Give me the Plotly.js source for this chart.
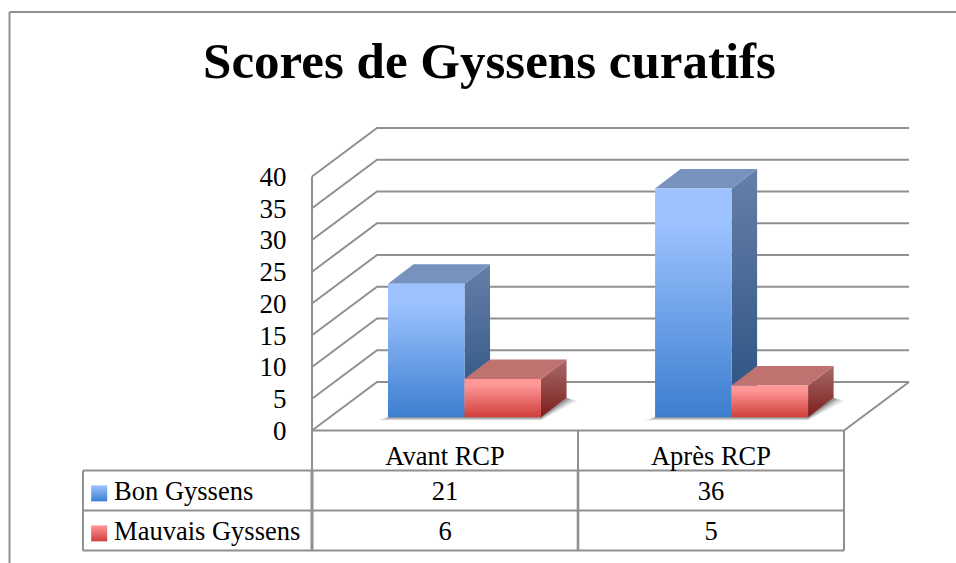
<!DOCTYPE html>
<html>
<head>
<meta charset="utf-8">
<script src="https://cdn.plot.ly/plotly-3.0.1.min.js"></script>
<style>
  html, body { margin: 0; padding: 0; background: white; }
</style>
</head>
<body>
<div id="graph" style="width:956px;height:563px;"></div>
<script>
// values
var chartTitle = 'Scores de Gyssens curatifs';
var categories = ['Avant RCP', 'Après RCP'];
var seriesNames = ['Bon Gyssens', 'Mauvais Gyssens'];
var bonGyssens = [21, 36];
var mauvaisGyssens = [6, 5];
var yTicks = [0, 5, 10, 15, 20, 25, 30, 35, 40];

// fake 3D: how far things are pushed back, in axis units
var wallDx = 0.2444, wallDy = 7.64;   // back wall
var barDx = 0.096, barDy = 3.07;      // depth of one bar
var barBase = 2.1;                    // bars stand a bit behind the front edge of the floor
var barStart = 0.2857, barWidth = 0.2876, groupStep = 1.004;

// table rows, in axis units under the floor
var headerY = -4.45, row1Y = -9.9, row2Y = -16.2;
var tableTop = -6.3, tableMid = -12.6, tableBottom = -18.9, tableLeft = -0.861;

var gridColor = '#909090';
var serif = '"Liberation Serif", serif';
var tableFontSize = 26.5;

var blue = {front: [[0, '#3c7ecf'], [0.85, '#9cc2ff'], [1, '#9cc2ff']], top: '#7892be', side: [[0, '#2a5080'], [1, '#6680a8']]};
var red = {front: [[0, '#cf3f3a'], [0.85, '#ff9797'], [1, '#ff9797']], top: '#c07270', side: [[0, '#7c1f1c'], [1, '#a66a6a']]};

var traces = [];

function line(x, y, width) {
  traces.push({x: x, y: y, mode: 'lines', line: {color: gridColor, width: width || 2}, hoverinfo: 'skip', showlegend: false});
}

function face(x, y, color) {
  var tr = {x: x, y: y, mode: 'lines', fill: 'toself', line: {width: 0}, showlegend: false, hoverinfo: 'skip'};
  if (typeof color == 'string') tr.fillcolor = color;
  else tr.fillgradient = {type: 'vertical', colorscale: color};
  traces.push(tr);
}

function tableText(x, y, text, pos) {
  traces.push({
    x: x, y: y, text: text, mode: 'text', textposition: pos || 'middle center',
    textfont: {family: serif, size: tableFontSize, color: '#000'}, hoverinfo: 'skip', showlegend: false
  });
}

// back wall + left wall
yTicks.forEach(function (v) {
  line([0, wallDx, 2 + wallDx], [v, v + wallDy, v + wallDy]);
});
line([0, 0], [0, 40]);
// floor
line([0, 2, 2 + wallDx], [0, 0, wallDy]);

// soft shadow on the floor, a few layers for the blur
function shadow(x0, x1) {
  [[0.04, 0.5, 'rgba(120,120,120,0.18)'], [0.025, 0.35, 'rgba(100,100,100,0.25)'], [0.012, 0.2, 'rgba(70,70,70,0.35)']].forEach(function (s) {
    face([x0 - s[0], x1, x1 + barDx + s[0], x1 + barDx, x0],
         [barBase - s[1], barBase - s[1], barBase + barDy - s[1], barBase + barDy, barBase], s[2]);
  });
}

function bar(x0, value, c) {
  var x1 = x0 + barWidth, base = barBase, t = barBase + value;
  face([x1, x1 + barDx, x1 + barDx, x1], [base, base + barDy, t + barDy, t], c.side);
  face([x0, x1, x1 + barDx, x0 + barDx], [t, t, t + barDy, t + barDy], c.top);
  face([x0, x1, x1, x0], [base, base, t, t], c.front);
}

categories.forEach(function (cat, i) {
  var x0 = i * groupStep + barStart;
  shadow(x0, x0 + 2 * barWidth);
  bar(x0, bonGyssens[i], blue);
  bar(x0 + barWidth, mauvaisGyssens[i], red);
});

// data table grid
line([tableLeft, 2], [tableTop, tableTop]);
line([tableLeft, 2], [tableMid, tableMid]);
line([tableLeft, 2], [tableBottom, tableBottom]);
line([tableLeft, tableLeft], [tableTop, tableBottom]);
line([0, 0], [0, tableTop]);
line([0, 0], [tableTop, tableBottom], 3);
line([1, 1], [0, tableTop]);
line([1, 1], [tableTop, tableBottom], 2.6);
line([2, 2], [0, tableBottom]);

// table text
tableText([0.5, 1.5], [headerY, headerY], categories);
tableText([0.5, 1.5], [row1Y, row1Y], bonGyssens.map(String));
tableText([0.5, 1.5], [row2Y, row2Y], mauvaisGyssens.map(String));

// legend keys + series names in the first column
var keyX = -0.8, nameX = -0.744;
traces.push({
  x: [keyX], y: [row1Y], mode: 'markers', hoverinfo: 'skip', showlegend: false,
  marker: {symbol: 'square', size: 16, color: '#9cc2ff', gradient: {type: 'vertical', color: '#3c7ecf'}, line: {width: 0}}
});
traces.push({
  x: [keyX], y: [row2Y], mode: 'markers', hoverinfo: 'skip', showlegend: false,
  marker: {symbol: 'square', size: 16, color: '#ff9797', gradient: {type: 'vertical', color: '#cf3f3a'}, line: {width: 0}}
});
tableText([nameX, nameX], [row1Y, row2Y], seriesNames, 'middle right');

var layout = {
  width: 956,
  height: 563,
  margin: {l: 0, r: 0, t: 0, b: 0, pad: 0},
  paper_bgcolor: 'white',
  plot_bgcolor: 'white',
  showlegend: false,
  title: {text: '<b>' + chartTitle + '</b>', font: {family: serif, size: 51, color: '#000'}, x: 489.5 / 956, xanchor: 'center', y: 1 - 60 / 563, yanchor: 'middle'},
  xaxis: {range: [-312 / 266, 644 / 266], visible: false, fixedrange: true},
  yaxis: {
    range: [-132.5 / 6.35, 430.5 / 6.35],
    anchor: 'free',
    position: 312 / 956,
    tickmode: 'array',
    tickvals: yTicks,
    ticks: 'outside',
    ticklen: 20,
    tickcolor: 'rgba(0,0,0,0)',
    showgrid: false,
    zeroline: false,
    showline: false,
    tickfont: {family: serif, size: 27, color: '#000'},
    fixedrange: true
  },
  shapes: [
    // chart frame, open on the right and at the bottom
    {type: 'line', xref: 'paper', yref: 'paper', x0: 9.5 / 956, x1: 9.5 / 956, y0: 0, y1: 1 - 12 / 563, line: {color: gridColor, width: 2}},
    {type: 'line', xref: 'paper', yref: 'paper', x0: 9.5 / 956, x1: 1, y0: 1 - 12 / 563, y1: 1 - 12 / 563, line: {color: gridColor, width: 2}}
  ]
};

Plotly.newPlot('graph', traces, layout, {displayModeBar: false, staticPlot: true});
</script>
</body>
</html>
